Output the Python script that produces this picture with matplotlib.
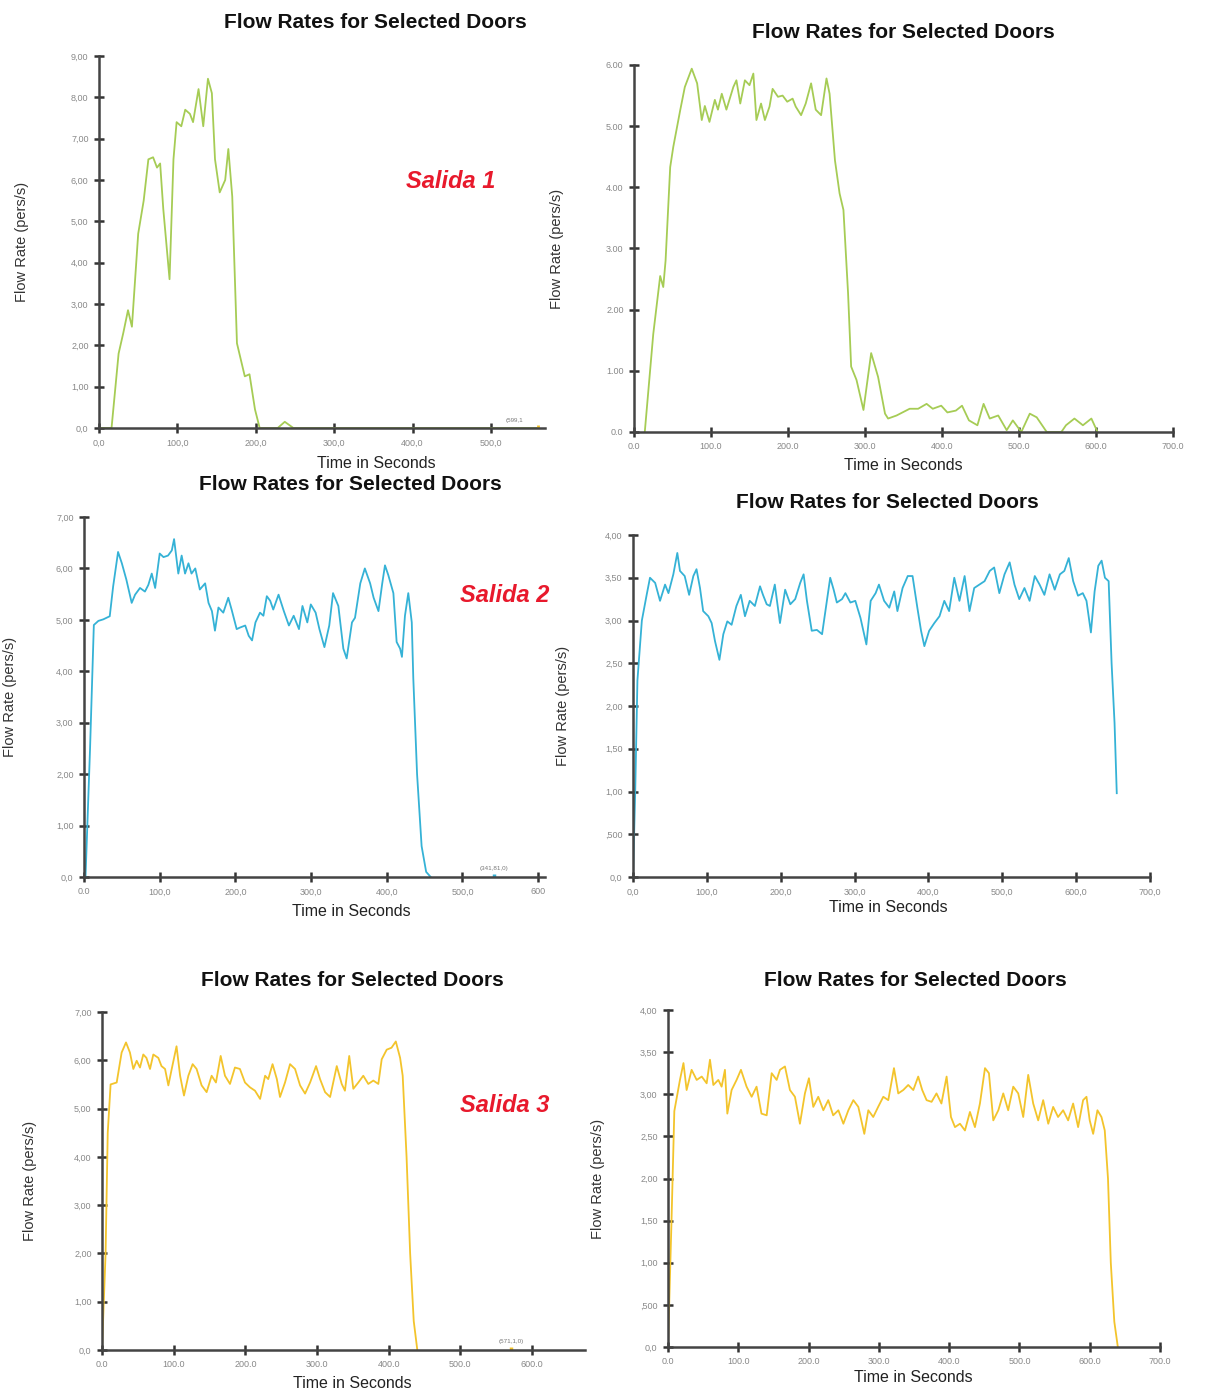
import matplotlib
matplotlib.use("Agg")
import matplotlib.pyplot as plt

plt.rcParams['font.family'] = ['Liberation Sans', 'DejaVu Sans']

# ---- data (time in s, flow rate in pers/s) ----
# Salida 1, left
t1 = [0, 16, 25, 31, 37, 42, 50, 57, 63, 69, 74, 78, 82, 90, 95, 99, 105, 110, 116, 120,
      127, 133, 139, 144, 148, 154, 161, 165, 170, 176, 186, 192, 199, 205, 228, 237, 248, 560]
v1 = [0, 0, 1.8, 2.3, 2.85, 2.45, 4.7, 5.5, 6.5, 6.55, 6.3, 6.4, 5.3, 3.6, 6.5, 7.4, 7.3, 7.7, 7.6, 7.4,
      8.2, 7.3, 8.45, 8.1, 6.5, 5.7, 6.0, 6.75, 5.6, 2.05, 1.25, 1.3, 0.45, 0.0, 0.0, 0.15, 0.0, 0.0]

# Salida 1, right
t2 = [14, 25, 34, 38, 41, 47, 51, 60, 66, 75, 82, 88, 92, 98, 105, 109, 114, 120, 129, 133,
      138, 144, 150, 155, 159, 165, 170, 176, 180, 187, 193, 199, 206, 210, 217, 223, 230, 236,
      243, 250, 254, 261, 267, 272, 278, 282, 289, 298, 308, 317, 326, 330, 341, 358, 369, 380,
      388, 399, 407, 418, 426, 435, 446, 454, 462, 473, 484, 492, 503, 514, 523, 536, 555, 561,
      572, 583, 594, 602]
v2 = [0.0, 1.6, 2.55, 2.37, 2.8, 4.33, 4.66, 5.26, 5.64, 5.94, 5.7, 5.1, 5.33, 5.07, 5.43, 5.27, 5.53, 5.27, 5.64, 5.75,
      5.37, 5.75, 5.67, 5.86, 5.1, 5.37, 5.1, 5.32, 5.61, 5.48, 5.5, 5.4, 5.45, 5.32, 5.18, 5.37, 5.7, 5.27,
      5.18, 5.78, 5.53, 4.44, 3.9, 3.63, 2.27, 1.07, 0.85, 0.36, 1.29, 0.9, 0.3, 0.22, 0.27, 0.38, 0.38, 0.46,
      0.38, 0.43, 0.32, 0.35, 0.43, 0.19, 0.11, 0.46, 0.22, 0.27, 0.03, 0.19, 0.0, 0.3, 0.24, 0.0, 0.0, 0.11,
      0.22, 0.11, 0.22, 0.0]

# Salida 2, left
t3 = [2, 8, 13, 19, 25.5, 34, 38.5, 45, 50, 56, 63, 67.5, 74, 80.5, 85, 89.5, 94, 100, 105, 111,
      116, 119, 124.6, 129, 133.5, 138, 142, 147, 153, 160, 164.5, 169, 173, 177.6, 184, 190.6, 195,
      201.7, 206, 213, 217.6, 222, 226.5, 232.5, 237, 241.5, 246, 250, 257, 264, 270.7, 277, 284,
      288.6, 295, 299.6, 306, 311, 317.6, 324, 329, 336, 342.6, 347, 354, 358, 365, 371, 378,
      382.6, 389, 394, 397.6, 402, 408.7, 413, 417.6, 420, 424, 428.4, 433, 435, 440, 446, 452, 458]
v3 = [0, 2.5, 4.9, 4.98, 5.01, 5.07, 5.65, 6.32, 6.1, 5.78, 5.33, 5.49, 5.62, 5.55, 5.68, 5.9, 5.62, 6.29, 6.22, 6.25,
      6.35, 6.57, 5.9, 6.25, 5.9, 6.1, 5.9, 6.0, 5.59, 5.71, 5.33, 5.17, 4.79, 5.24, 5.14, 5.43, 5.2,
      4.82, 4.85, 4.89, 4.69, 4.6, 4.95, 5.14, 5.08, 5.46, 5.37, 5.2, 5.49, 5.17, 4.89, 5.08, 4.82,
      5.27, 4.95, 5.3, 5.14, 4.82, 4.47, 4.89, 5.52, 5.27, 4.44, 4.25, 4.95, 5.04, 5.71, 6.0, 5.71,
      5.43, 5.17, 5.71, 6.06, 5.87, 5.52, 4.57, 4.44, 4.28, 5.08, 5.52, 4.95, 3.87, 2.0, 0.6, 0.1, 0.0]

# Salida 2, right
t4 = [0, 3, 6, 12, 18.5, 23, 30, 36.6, 43.4, 48, 54.6, 60, 63.6, 70, 76, 81.7, 86, 90.7, 95, 102,
      106.5, 111, 117, 122.3, 127.7, 133.5, 140, 146, 151.6, 158, 165, 172, 176, 181, 185.4, 192,
      199, 206, 213, 219.6, 226.4, 231, 235.5, 242, 249, 256, 262.5, 267, 271.7, 276, 283, 287.6,
      294.3, 301, 308, 316, 321.8, 328.5, 333, 340, 347, 353.7, 358, 365, 372, 378.5, 385, 390,
      394.5, 401, 408, 415, 421.5, 428, 435, 442, 449, 455.6, 462, 469, 476, 483, 489, 496, 503,
      510, 516.5, 523, 530, 537, 544, 550.5, 557, 564, 571, 578, 584, 590, 596, 602.5, 609, 614,
      620, 625, 630, 634.5, 639, 644, 648, 652, 655]
v4 = [0, 1.0, 2.3, 3.0, 3.3, 3.5, 3.44, 3.23, 3.42, 3.32, 3.54, 3.79, 3.58, 3.52, 3.3, 3.52, 3.6, 3.38, 3.11, 3.05,
      2.97, 2.76, 2.54, 2.84, 2.99, 2.95, 3.17, 3.3, 3.05, 3.23, 3.17, 3.4, 3.3, 3.19, 3.17, 3.42,
      2.97, 3.36, 3.19, 3.25, 3.44, 3.54, 3.23, 2.88, 2.89, 2.84, 3.23, 3.5, 3.36, 3.21, 3.25, 3.32,
      3.21, 3.23, 3.03, 2.72, 3.23, 3.32, 3.42, 3.23, 3.15, 3.34, 3.11, 3.38, 3.52, 3.52, 3.15, 2.88,
      2.7, 2.88, 2.97, 3.05, 3.23, 3.11, 3.5, 3.23, 3.52, 3.11, 3.38, 3.42, 3.46, 3.58, 3.62, 3.32, 3.54,
      3.68, 3.42, 3.25, 3.38, 3.23, 3.52, 3.42, 3.3, 3.54, 3.36, 3.54, 3.58, 3.73, 3.46, 3.29, 3.32, 3.23,
      2.86, 3.34, 3.64, 3.7, 3.5, 3.46, 2.5, 1.8, 0.98]

# Salida 3, left
t5 = [0, 5, 8, 12, 20.5, 27.4, 33.5, 39, 43.7, 48.4, 53, 57.6, 62, 67, 71.6, 78.6, 83, 88, 92.6, 97.3,
      104, 109, 114.4, 120.5, 126.5, 132, 139, 146, 153, 159, 165.6, 171.6, 178.6, 185.5, 192.5,
      199.5, 206.5, 213.5, 220.6, 227.6, 232, 238, 244, 248.4, 255.4, 262.4, 269.4, 276.4, 283.4,
      290.4, 298.7, 304.3, 311.3, 318.3, 327.6, 334.5, 339, 345, 350.7, 357.7, 364.6, 371.6, 378.6,
      385.6, 390.3, 397.3, 404, 410, 416, 419.6, 425, 430, 435, 440]
v5 = [0, 2.0, 4.5, 5.5, 5.54, 6.16, 6.37, 6.16, 5.82, 5.99, 5.85, 6.12, 6.05, 5.82, 6.12, 6.05, 5.88, 5.82, 5.48, 5.82,
      6.29, 5.68, 5.27, 5.68, 5.92, 5.82, 5.48, 5.34, 5.68, 5.54, 6.09, 5.68, 5.51, 5.85, 5.82,
      5.54, 5.44, 5.37, 5.2, 5.68, 5.61, 5.92, 5.61, 5.24, 5.54, 5.92, 5.82, 5.48, 5.31,
      5.54, 5.88, 5.61, 5.34, 5.24, 5.88, 5.51, 5.37, 6.09, 5.41, 5.54, 5.68, 5.51, 5.58,
      5.51, 6.02, 6.22, 6.26, 6.39, 6.05, 5.68, 4.0, 2.0, 0.6, 0.0]

# Salida 3, right
t6 = [0, 5, 9, 17, 22, 26.5, 33.6, 40.8, 48, 55, 59.7, 64.5, 71.6, 76.3, 81, 84.4, 90.5, 97.6, 103.8, 111.8,
      119, 126, 133, 140.4, 147.5, 154.6, 159.3, 166.4, 173.5, 180.6, 187.7, 194.8, 200.5, 206.7,
      213.8, 221, 228, 235, 242.4, 249.5, 256.6, 263.7, 270.8, 279.3, 285, 292, 299, 306.3, 313.4,
      321.5, 327.6, 334.7, 341.8, 349, 356, 361.7, 367.9, 375, 382, 389, 396.4, 402.6, 408.3, 415.4,
      422.5, 429.6, 436.7, 443.8, 451, 456.6, 462.8, 470, 477, 484, 491.2, 498.3, 505.4, 512.5,
      519.6, 526.7, 533.8, 541, 548, 555, 562.2, 569.3, 576.4, 583.5, 590.6, 595.4, 600, 604.9,
      611, 616.7, 621.4, 626, 630, 635, 640]
v6 = [0, 1.5, 2.8, 3.17, 3.37, 3.05, 3.29, 3.17, 3.21, 3.13, 3.41, 3.11, 3.17, 3.09, 3.29, 2.77, 3.05, 3.17, 3.29, 3.09,
      2.97, 3.09, 2.77, 2.75, 3.25, 3.17, 3.29, 3.33, 3.05, 2.97, 2.65, 3.01, 3.19, 2.85,
      2.97, 2.81, 2.93, 2.75, 2.81, 2.65, 2.81, 2.93, 2.85, 2.53, 2.81, 2.73, 2.85, 2.97, 2.93,
      3.31, 3.01, 3.05, 3.11, 3.05, 3.21, 3.05, 2.93, 2.91, 3.01, 2.89, 3.21, 2.73, 2.61, 2.65,
      2.57, 2.79, 2.61, 2.89, 3.31, 3.25, 2.69, 2.81, 3.01, 2.81, 3.09, 3.01, 2.73, 3.23,
      2.89, 2.69, 2.93, 2.65, 2.85, 2.73, 2.81, 2.69, 2.89, 2.61, 2.93, 2.97, 2.69, 2.53,
      2.81, 2.73, 2.57, 2.0, 1.0, 0.3, 0.0]

green = '#a6cc55'
blue = '#35b2d6'
yellow = '#f3c42c'

W, H = 1206, 1393
fig = plt.figure(figsize=(W / 100, H / 100), dpi=100)


def panel(left, right, top, bottom, xmax, ymax, xticks, xlabels, yticks, ylabels,
          t, v, color, title, title_xy, ylabel_x, xlabel_xy):
    ax = fig.add_axes([left / W, 1 - bottom / H, (right - left) / W, (bottom - top) / H])
    ax.plot(t, v, color=color, lw=1.3)
    ax.set_xlim(0, xmax)
    ax.set_ylim(0, ymax)
    ax.spines[['top', 'right']].set_visible(False)
    for s in ['left', 'bottom']:
        ax.spines[s].set_color('#444444')
        ax.spines[s].set_linewidth(1.8)
    ax.set_xticks(xticks, xlabels)
    ax.set_yticks(yticks, ylabels)
    ax.tick_params(direction='inout', length=7, width=1.8, color='#333333',
                   labelsize=6.5, labelcolor='#888888', pad=4)
    fig.text(title_xy[0] / W, 1 - title_xy[1] / H, title, ha='center', va='center',
             fontsize=15, fontweight='bold', color='#111111')
    fig.text(ylabel_x / W, 1 - ((top + bottom) / 2) / H, 'Flow Rate (pers/s)', rotation=90,
             ha='center', va='center', fontsize=10.5, color='#333333')
    fig.text(xlabel_xy[0] / W, 1 - xlabel_xy[1] / H, 'Time in Seconds',
             ha='center', va='center', fontsize=11.5, color='#222222')
    return ax


title = 'Flow Rates for Selected Doors'
yl_half = [0, 0.5, 1, 1.5, 2, 2.5, 3, 3.5, 4]
yl_half_lab = ['0,0', ',500', '1,00', '1,50', '2,00', '2,50', '3,00', '3,50', '4,00']

ax1 = panel(99, 545, 56, 428, 569, 9,
            [0, 100, 200, 300, 400, 500], ['0,0', '100,0', '200,0', '300,0', '400,0', '500,0'],
            range(10), ['0,0'] + ['%d,00' % i for i in range(1, 10)],
            t1, v1, green, title, (375, 22), 22, (376, 463))
ax1.text(530, 0.12, '(599,1', fontsize=4.5, color='#777777', ha='center', va='bottom')
ax1.plot([560], [0], marker='|', color=yellow, ms=5, mew=2)

ax2 = panel(634, 1173, 65, 432, 700, 6,
            range(0, 800, 100), ['0.0', '100.0', '200.0', '300.0', '400.0', '500.0', '600.0', '700.0'],
            range(7), ['0.0'] + ['%d.00' % i for i in range(1, 7)],
            t2, v2, green, title, (903, 32), 557, (903, 466))

ax3 = panel(84, 545, 517, 877, 609, 7,
            range(0, 700, 100), ['0.0', '100,0', '200,0', '300,0', '400,0', '500,0', '600'],
            range(8), ['0,0'] + ['%d,00' % i for i in range(1, 8)],
            t3, v3, blue, title, (350, 485), 10, (351, 911))
ax3.text(541, 0.12, '(341,81,0)', fontsize=4.5, color='#777777', ha='center', va='bottom')
ax3.plot([541], [0], marker='|', color=blue, ms=5, mew=2.5)

ax4 = panel(633, 1150, 535, 877, 700, 4,
            range(0, 800, 100), ['0,0', '100,0', '200,0', '300,0', '400,0', '500,0', '600,0', '700,0'],
            yl_half, yl_half_lab,
            t4, v4, blue, title, (887, 503), 563, (888, 908))

ax5 = panel(102, 585, 1012, 1350, 674, 7,
            range(0, 700, 100), ['0.0', '100.0', '200.0', '300.0', '400.0', '500.0', '600.0'],
            range(8), ['0,0'] + ['%d,00' % i for i in range(1, 8)],
            t5, v5, yellow, title, (352, 981), 30, (352, 1383))
ax5.text(571, 0.12, '(571,1,0)', fontsize=4.5, color='#777777', ha='center', va='bottom')
ax5.plot([571], [0], marker='|', color=yellow, ms=5, mew=2.5)

ax6 = panel(668, 1160, 1010, 1347, 700, 4,
            range(0, 800, 100), ['0.0', '100.0', '200.0', '300.0', '400.0', '500.0', '600.0', '700.0'],
            yl_half, yl_half_lab,
            t6, v6, yellow, title, (915, 980), 598, (913, 1378))

red = '#e8192c'
for label, (x, y) in [('Salida 1', (451, 181)), ('Salida 2', (505, 595)), ('Salida 3', (505, 1105))]:
    fig.text(x / W, 1 - y / H, label, ha='center', va='center', fontsize=17,
             fontweight='bold', fontstyle='italic', color=red)

fig.savefig('out.png', dpi=100)
